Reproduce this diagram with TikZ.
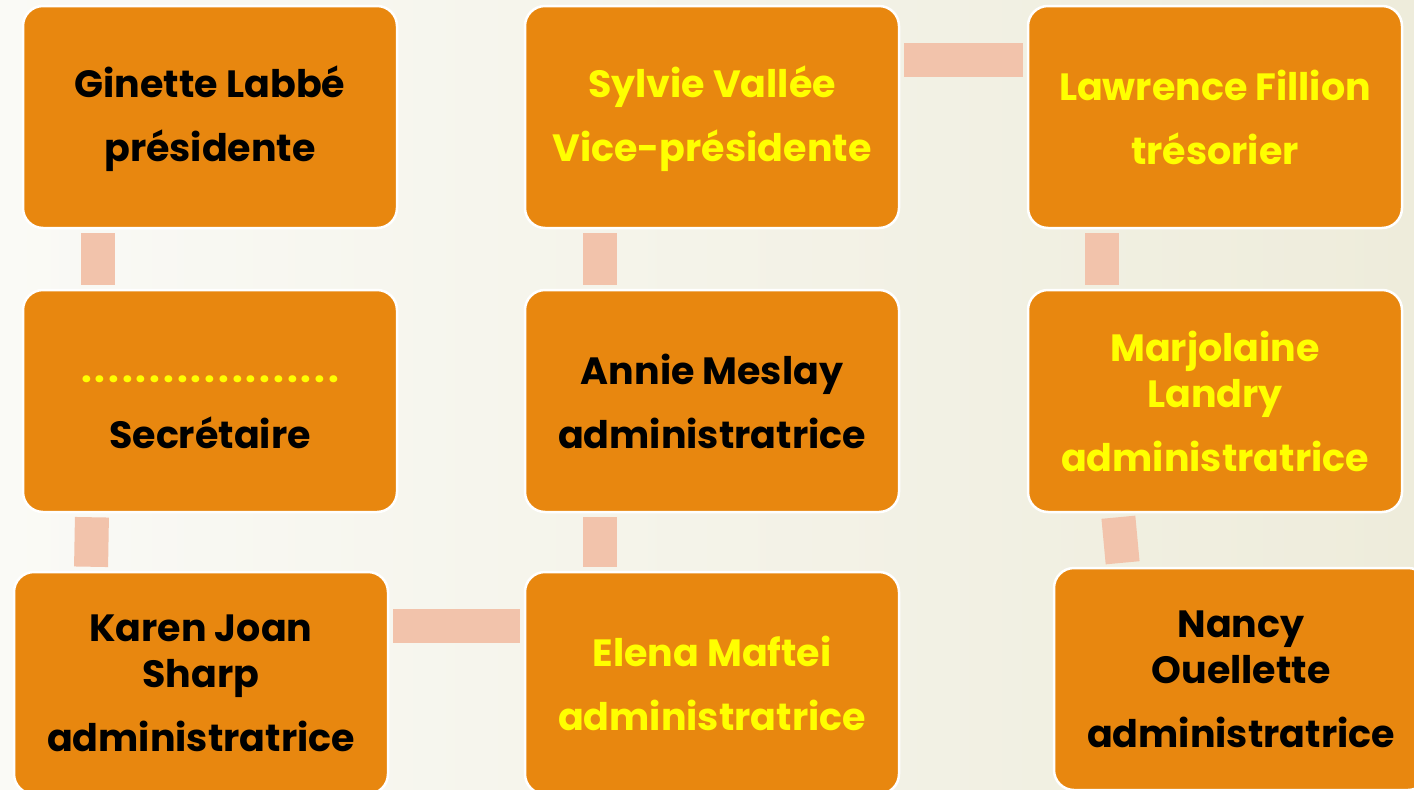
\documentclass[tikz,border=0pt]{standalone}
\usepackage{fontspec}
\setmainfont{Poppins}
\definecolor{boxor}{HTML}{E8870F}
\definecolor{bar}{HTML}{F2C3AB}
\definecolor{yel}{HTML}{FFFF00}
\definecolor{bgl}{HTML}{FAFAF6}
\definecolor{bgr}{HTML}{EEECDB}
\newcommand{\dotrow}{\makebox[258pt]{.\hfill.\hfill.\hfill.\hfill.\hfill.\hfill.\hfill.\hfill.\hfill.\hfill.\hfill.\hfill.\hfill.\hfill.\hfill.\hfill.\hfill.\hfill.}}
\tikzset{
  card/.style={draw=white, line width=2.5pt, fill=boxor, rounded corners=20pt,
    minimum width=374pt, minimum height=222pt, align=center, inner sep=0pt,
    font=\fontsize{38}{46}\selectfont\bfseries},
  blk/.style={text=black},
  ylw/.style={text=yel},
  conn/.style={draw=bar, line width=34pt, shorten >=4pt, shorten <=4pt},
}
\begin{document}
\begin{tikzpicture}[x=1pt,y=-1pt]
\shade[left color=bgl, right color=bgr] (0,0) rectangle (1414,790);
\useasboundingbox (0,0) rectangle (1414,790);
\node[card,blk] (gin) at (210,117) {\rule{0pt}{36pt}Ginette Labbé\\[18pt]présidente};
\node[card] (sec) at (210,401) {\rule{0pt}{30pt}{\color{yel}\dotrow}\\[20pt]Secrétaire};
\node[card,blk] (kar) at (201,683) {Karen Joan\\Sharp\\[18pt]administratrice};
\node[card,ylw] (syl) at (712,117) {\rule{0pt}{36pt}Sylvie Vallée\\[18pt]Vice-présidente};
\node[card,blk] (ann) at (712,401) {Annie Meslay\\[18pt]administratrice};
\node[card,ylw] (ele) at (712,683) {Elena Maftei\\[18pt]administratrice};
\node[card,ylw] (law) at (1215,117) {Lawrence Fillion\\[18pt]trésorier};
\node[card,ylw] (mar) at (1215,401) {Marjolaine\\Landry\\[18pt]administratrice};
\node[card,blk] (nan) at (1241,679) {Nancy\\Ouellette\\[18pt]administratrice};
\draw[conn] ([xshift=-112pt]gin.south) -- ([xshift=-112pt]sec.north);
\draw[conn] ([xshift=-118pt]sec.south) -- ([xshift=-110pt]kar.north);
\draw[conn] ([yshift=57pt]kar.east) -- ([yshift=57pt]ele.west);
\draw[conn] ([xshift=-112pt]ele.north) -- ([xshift=-112pt]ann.south);
\draw[conn] ([xshift=-112pt]ann.north) -- ([xshift=-112pt]syl.south);
\draw[conn] ([yshift=57pt]syl.east) -- ([yshift=57pt]law.west);
\draw[conn] ([xshift=-113pt]law.south) -- ([xshift=-113pt]mar.north);
\draw[conn] ([xshift=-97pt]mar.south) -- ([xshift=-118pt]nan.north);
\end{tikzpicture}
\end{document}
